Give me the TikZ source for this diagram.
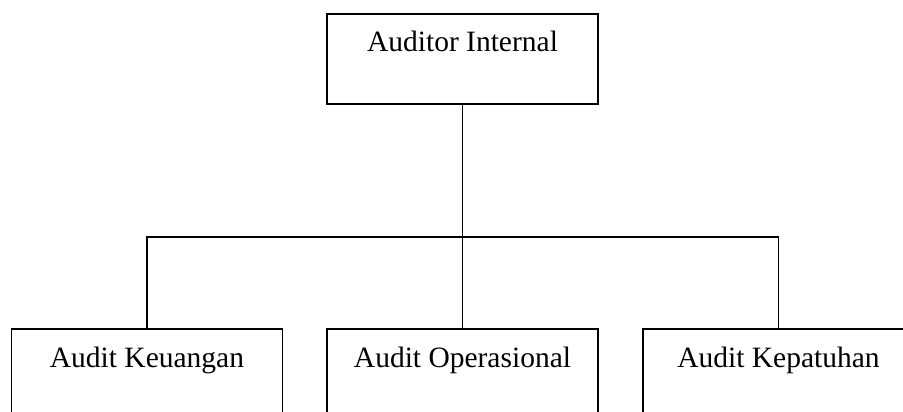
\documentclass[tikz,border=0pt]{standalone}
\usepackage{fontspec}
\setmainfont{Liberation Serif}
\usetikzlibrary{calc}
\begin{document}
\begin{tikzpicture}[x=1pt,y=1pt,
  box/.style={draw, line width=1.7pt, minimum width=271pt, minimum height=90pt, inner sep=0pt, anchor=north},
  lbl/.style={anchor=base, font=\fontsize{29.5}{35}\selectfont, inner sep=0pt},
  conn/.style={line width=1.6pt}]
\clip (0,0) rectangle (903,-412);
\fill[white] (0,0) rectangle (903,-412);
\node[box] (top) at (462.5,-13) {};
\node[lbl] (ttop) at ($(top.north)+(0,-39)$) {Auditor Internal};
\node[box] (left) at (147,-328) {};
\node[lbl] (tleft) at ($(left.north)+(0,-39)$) {Audit Keuangan};
\node[box] (mid) at (462.5,-328) {};
\node[lbl] (tmid) at ($(mid.north)+(0,-39)$) {Audit Operasional};
\node[box] (right) at (778.5,-328) {};
\node[lbl] (tright) at ($(right.north)+(0,-39)$) {Audit Kepatuhan};
\coordinate (bus) at (462.5,-237);
\draw[conn] (top.south) -- (mid.north);
\draw[conn] (left.north) -- (left.north |- bus) -- (right.north |- bus) -- (right.north);
\end{tikzpicture}
\end{document}
